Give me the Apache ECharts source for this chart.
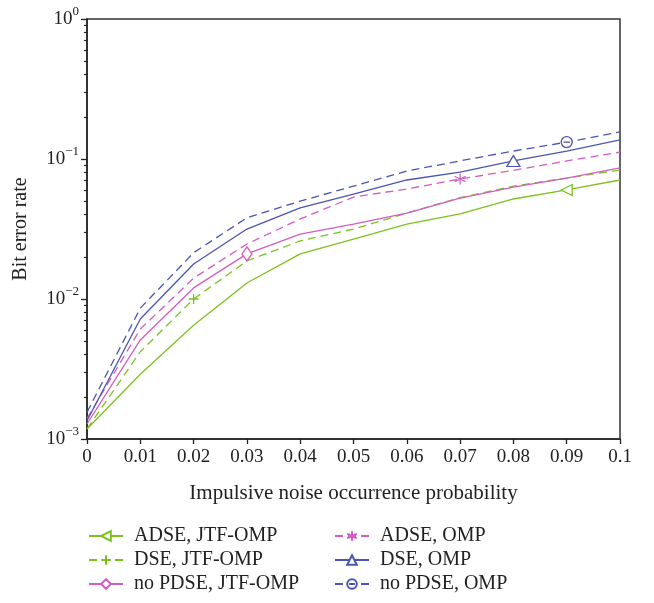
<!DOCTYPE html>
<html>
<head>
<meta charset="utf-8">
<script src="https://cdn.jsdelivr.net/npm/echarts@6/dist/echarts.min.js"></script>
<style>html,body{margin:0;padding:0;background:#fff;}#c{width:654px;height:603px;}</style>
</head>
<body>
<div id="c"></div>
<script>
var xValues = [0, 0.01, 0.02, 0.03, 0.04, 0.05, 0.06, 0.07, 0.08, 0.09, 0.1];
var seriesNames = ['ADSE, JTF-OMP', 'DSE, JTF-OMP', 'no PDSE, JTF-OMP', 'ADSE, OMP', 'DSE, OMP', 'no PDSE, OMP'];
var adseJtf   = [0.00118, 0.0029, 0.0065, 0.0130, 0.0210, 0.0268, 0.0343, 0.0405, 0.0518, 0.0601, 0.0708];
var dseJtf    = [0.00118, 0.0042, 0.0100, 0.0187, 0.0260, 0.0316, 0.0411, 0.0530, 0.0640, 0.0731, 0.0834];
var noPdseJtf = [0.00128, 0.0051, 0.0120, 0.0210, 0.0291, 0.0343, 0.0411, 0.0526, 0.0630, 0.0731, 0.0863];
var adseOmp   = [0.00140, 0.0061, 0.0141, 0.0247, 0.0373, 0.0535, 0.0610, 0.0720, 0.0830, 0.0968, 0.1120];
var dseOmp    = [0.00135, 0.0072, 0.0178, 0.0316, 0.0447, 0.0562, 0.0708, 0.0807, 0.0968, 0.1140, 0.1370];
var noPdseOmp = [0.00155, 0.0086, 0.0214, 0.0380, 0.0500, 0.0640, 0.0820, 0.0970, 0.1140, 0.1320, 0.1560];
var yTickValues = [0.001, 0.01, 0.1, 1];
var markerIndex = [9, 2, 3, 7, 8, 9];

var allData = [adseJtf, dseJtf, noPdseJtf, adseOmp, dseOmp, noPdseOmp];
var green = '#7cc21f', pink = '#d35cc2', blue = '#4a55b4';
var colors = [green, green, pink, pink, blue, blue];
var dashed = [false, true, false, true, false, true];
var symbols = [
  'path://M0,5L10,0L10,10Z',
  'path://M5,0L5,10M0,5L10,5',
  'path://M5,0L10,5L5,10L0,5Z',
  'path://M5,0L5,10M0.7,2.5L9.3,7.5M0.7,7.5L9.3,2.5',
  'path://M5,0L10,9L0,9Z',
  'path://M10,5A5,5 0 1,1 0,5A5,5 0 1,1 10,5ZM2,5L8,5'
];
var symbolSizes = [[11, 11], [10, 10], [10, 14], [11, 11], [13, 11], [11, 11]];

var minorTicks = [];
[0.001, 0.01, 0.1].forEach(function (d) {
  for (var k = 2; k <= 9; k++) minorTicks.push(+(d * k).toPrecision(3));
});

var FONT = '"Liberation Serif", "DejaVu Serif", serif';

var series = allData.map(function (arr, s) {
  return {
    name: seriesNames[s],
    type: 'line',
    data: xValues.map(function (x, i) {
      return i === markerIndex[s] ? [x, arr[i]] : { value: [x, arr[i]], symbol: 'none' };
    }),
    symbol: symbols[s],
    symbolSize: symbolSizes[s],
    showSymbol: true,
    showAllSymbol: true,
    silent: true,
    animation: false,
    z: 2 + s,
    lineStyle: { color: colors[s], width: 1.3, type: dashed[s] ? [8, 5] : 'solid' },
    itemStyle: { color: '#fff', borderColor: colors[s], borderWidth: 1.3 }
  };
});

var legendText = { fontFamily: FONT, fontSize: 20, color: '#222', padding: [0, 0, 0, 6], lineHeight: 20 };

var option = {
  backgroundColor: '#fff',
  animation: false,
  grid: { left: 87, right: 34, top: 19, bottom: 164, show: true, borderColor: '#333', borderWidth: 1.5, backgroundColor: 'transparent', containLabel: false, outerBoundsMode: 'none' },
  legend: [
    { data: seriesNames.slice(0, 3), orient: 'vertical', left: 83, top: 521, itemWidth: 34, itemHeight: 12, itemGap: 4, textStyle: legendText, selectedMode: false },
    { data: seriesNames.slice(3, 6), orient: 'vertical', left: 329, top: 521, itemWidth: 34, itemHeight: 12, itemGap: 4, textStyle: legendText, selectedMode: false }
  ],
  xAxis: {
    type: 'value', min: 0, max: 0.1, interval: 0.01,
    name: 'Impulsive noise occurrence probability', nameLocation: 'middle', nameGap: 44,
    nameTextStyle: { fontFamily: FONT, fontSize: 21, color: '#222' },
    axisLine: { show: true, lineStyle: { color: '#222', width: 1.5 } },
    axisTick: { show: true, inside: false, length: 5, lineStyle: { color: '#222', width: 1.3 } },
    axisLabel: { fontFamily: FONT, fontSize: 19, color: '#222', margin: 9, formatter: function (v) { return String(+v.toFixed(2)); } },
    splitLine: { show: false }
  },
  yAxis: [
    {
      type: 'log', logBase: 10, min: 0.001, max: 1,
      name: 'Bit error rate', nameLocation: 'middle', nameGap: 56,
      nameTextStyle: { fontFamily: FONT, fontSize: 20, color: '#222' },
      axisLine: { show: true, lineStyle: { color: '#222', width: 1.5 } },
      axisTick: { show: true, inside: false, length: 6, lineStyle: { color: '#222', width: 1.3 } },
      axisLabel: {
        margin: 8, fontFamily: FONT, color: '#222',
        formatter: function (v) {
          var e = Math.round(Math.log(v) / Math.LN10);
          return '{b|10}{s|' + (e === 0 ? '0' : '\u2212' + (-e)) + '}';
        },
        rich: {
          b: { fontFamily: FONT, fontSize: 19, color: '#222' },
          s: { fontFamily: FONT, fontSize: 13, color: '#222', padding: [0, 0, 14, 0] }
        }
      },
      splitLine: { show: false }
    },
    {
      type: 'log', logBase: 10, min: 0.001, max: 1, position: 'left',
      axisLine: { show: false },
      axisLabel: { show: false },
      axisTick: { show: true, inside: false, length: 3, customValues: minorTicks, lineStyle: { color: '#222', width: 1.2 } },
      splitLine: { show: false }
    }
  ],
  series: series
};

var chart = echarts.init(document.getElementById('c'), null, { renderer: 'canvas' });
chart.setOption(option);
</script>
</body>
</html>
